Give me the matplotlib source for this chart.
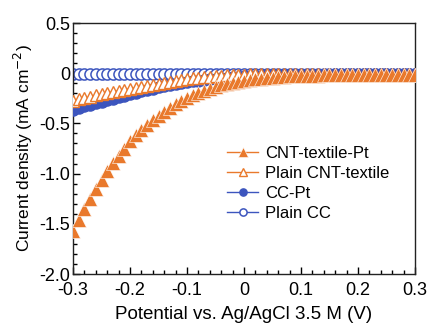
import numpy as np
import matplotlib
matplotlib.use("Agg")
import matplotlib.pyplot as plt
from matplotlib.ticker import MultipleLocator

plt.rcParams["font.family"] = ["Liberation Sans", "DejaVu Sans"]
plt.rcParams["axes.unicode_minus"] = False

# Potential (V), 0.01 V steps
potential = [round(-0.30 + 0.01 * i, 2) for i in range(61)]

cnt_pt = [-1.57, -1.46, -1.35, -1.25, -1.15, -1.06, -0.97, -0.89, -0.82, -0.75,
          -0.68, -0.62, -0.57, -0.52, -0.47, -0.43, -0.39, -0.35, -0.31, -0.28,
          -0.25, -0.22, -0.20, -0.18, -0.16, -0.14, -0.12, -0.11, -0.10, -0.09,
          -0.08, -0.07, -0.06, -0.055, -0.05, -0.045, -0.04, -0.035, -0.03, -0.03,
          -0.025, -0.025, -0.025, -0.025, -0.02, -0.02, -0.02, -0.02, -0.02, -0.02,
          -0.02, -0.02, -0.02, -0.02, -0.02, -0.02, -0.02, -0.02, -0.02, -0.02, -0.02]

plain_cnt = [-0.28, -0.26, -0.25, -0.235, -0.22, -0.21, -0.195, -0.185, -0.175, -0.165,
             -0.155, -0.145, -0.135, -0.125, -0.115, -0.105, -0.095, -0.085, -0.075, -0.065,
             -0.06, -0.05, -0.045, -0.04, -0.035, -0.03, -0.025, -0.02, -0.02, -0.015,
             -0.015, -0.01, -0.01, -0.01, -0.01, -0.01, -0.01, -0.01, -0.01, -0.01,
             -0.01, -0.01, -0.01, -0.01, -0.01, -0.01, -0.01, -0.01, -0.01, -0.01,
             -0.01, -0.01, -0.01, -0.01, -0.01, -0.01, -0.01, -0.01, -0.01, -0.01, -0.01]

cc_pt = [-0.37, -0.35, -0.33, -0.315, -0.30, -0.285, -0.27, -0.255, -0.24, -0.225,
         -0.21, -0.195, -0.18, -0.167, -0.155, -0.142, -0.13, -0.12, -0.11, -0.10,
         -0.09, -0.082, -0.075, -0.068, -0.06, -0.055, -0.05, -0.045, -0.04, -0.035,
         -0.03, -0.028, -0.025, -0.023, -0.022, -0.02, -0.019, -0.018, -0.017, -0.016,
         -0.015, -0.015, -0.014, -0.014, -0.013, -0.013, -0.012, -0.012, -0.012, -0.011,
         -0.011, -0.011, -0.01, -0.01, -0.01, -0.01, -0.01, -0.01, -0.01, -0.01, -0.01]

plain_cc = [-0.01, -0.01, -0.01, -0.01, -0.01, -0.01, -0.008, -0.008, -0.008, -0.008,
            -0.007, -0.007, -0.007, -0.007, -0.006, -0.006, -0.006, -0.006, -0.005, -0.005,
            -0.005, -0.005, -0.005, -0.005, -0.005, -0.004, -0.004, -0.004, -0.004, -0.004,
            -0.004, -0.004, -0.004, -0.004, -0.004, -0.004, -0.004, -0.004, -0.004, -0.004,
            -0.004, -0.004, -0.004, -0.004, -0.004, -0.004, -0.004, -0.004, -0.004, -0.004,
            -0.004, -0.004, -0.004, -0.004, -0.004, -0.004, -0.004, -0.004, -0.004, -0.004, -0.004]

orange = "#E9792C"
blue = "#3C55BE"

fig = plt.figure(figsize=(4.28, 3.23), dpi=100)
ax = fig.add_axes([0.1706, 0.1517, 0.799, 0.777])

ax.plot(potential, plain_cc, "-o", color=blue, mfc="white", mec=blue, ms=8, mew=1.1, lw=1,
        label="Plain CC", zorder=2)
ax.plot(potential, cc_pt, "-o", color=blue, mfc=blue, mec=blue, ms=8, lw=1,
        label="CC-Pt", zorder=3)
ax.plot(potential, plain_cnt, "-^", color=orange, mfc="white", mec=orange, ms=8, mew=1.0, lw=1,
        label="Plain CNT-textile", zorder=4)
ax.plot(potential, cnt_pt, "-^", color=orange, mfc=orange, mec="white", mew=0.4, ms=10, lw=1,
        label="CNT-textile-Pt", zorder=5)

ax.set_xlim(-0.3, 0.3)
ax.set_ylim(-2.0, 0.5)
ax.xaxis.set_minor_locator(MultipleLocator(0.02))
ax.yaxis.set_minor_locator(MultipleLocator(0.1))
ax.set_xticks([-0.3, -0.2, -0.1, 0, 0.1, 0.2, 0.3])
ax.set_xticklabels(["-0.3", "-0.2", "-0.1", "0", "0.1", "0.2", "0.3"])
ax.set_yticks([-2.0, -1.5, -1.0, -0.5, 0, 0.5])
ax.set_yticklabels(["-2.0", "-1.5", "-1.0", "-0.5", "0", "0.5"])
ax.tick_params(which="both", direction="in", top=False, right=False, labelsize=13, width=1)
ax.tick_params(axis="x", which="major", length=5, pad=5.5)
ax.tick_params(axis="y", which="major", length=5, pad=2)
ax.tick_params(which="minor", length=3)
for sp in ax.spines.values():
    sp.set_linewidth(1)
    sp.set_color("#222222")

ax.set_xlabel("Potential vs. Ag/AgCl 3.5 M (V)", fontsize=13.5, labelpad=5)
ax.set_ylabel("Current density (mA cm$^{-2}$)", fontsize=12.5, labelpad=3)

h, l = ax.get_legend_handles_labels()
ax.legend(h[::-1], l[::-1], loc="upper left", bbox_to_anchor=(0.44, 0.525), frameon=False,
          fontsize=12, handlelength=1.9, handletextpad=0.4, labelspacing=0.3,
          borderpad=0.2, borderaxespad=0, markerscale=0.65)

fig.savefig("out.png", dpi=100)
